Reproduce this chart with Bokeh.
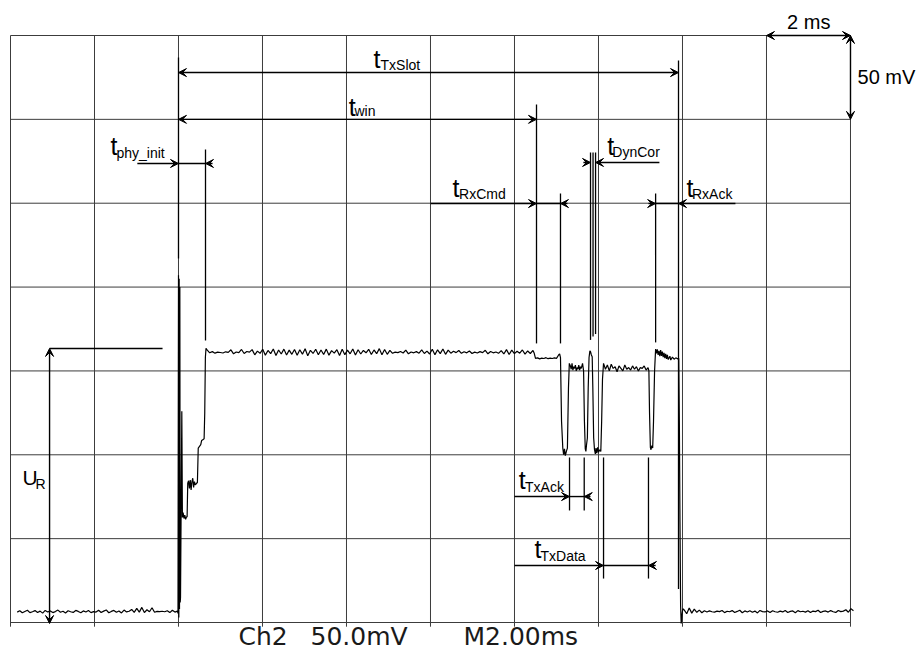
import numpy as np
from bokeh.plotting import figure
from bokeh.models import Range1d, ColumnDataSource, Arrow, VeeHead
from bokeh.core.properties import value
from bokeh.embed import file_html
from bokeh.resources import INLINE

# ---------------- data (time in ms, voltage in mV) ----------------
x_grid = [0, 2, 4, 6, 8, 10, 12, 14, 16, 18, 20]
y_grid = [0, 50, 100, 150, 200, 250, 300, 350]

# baseline before the slot
pre_t0, pre_t1 = 0.16, 3.975
pre_v = [6.2, 7.0, 5.8, 6.6, 7.3, 5.9, 6.4, 7.1, 6.0, 6.8, 5.6, 7.2, 6.3, 6.9, 5.9, 6.5,
         7.4, 6.1, 6.7, 5.7, 7.0, 6.4, 6.0, 7.2, 6.6, 5.8, 6.9, 6.3, 7.1, 5.9, 6.5, 6.2,
         7.3, 6.0, 6.8, 7.5, 5.8, 6.6, 7.2, 6.1, 6.9, 5.7, 7.4, 6.3, 6.7, 7.8, 6.0, 8.4,
         6.2, 9.0, 5.9, 7.6, 6.4, 8.8, 6.1, 6.6, 6.5, 6.7, 6.4, 7.0, 5.9, 7.3, 6.2, 6.8]

# power-up transient
spike_t = [3.988, 4.0, 4.008, 4.016, 4.024, 4.032, 4.040, 4.048, 4.079, 4.093, 4.11, 4.13,
           4.15, 4.17, 4.19, 4.205, 4.22, 4.24, 4.26, 4.28, 4.30, 4.32, 4.34, 4.36, 4.38,
           4.40, 4.43, 4.45, 4.47, 4.50, 4.53, 4.55, 4.58, 4.61, 4.625, 4.64, 4.655]
spike_v = [5.5, 207.0, 3.0, 205.0, 8.0, 200.0, 12.0, 14.9, 126.0, 62.6, 65.5, 62.0,
           64.0, 61.5, 63.0, 63.0, 83.0, 84.5, 80.0, 85.0, 79.0, 84.0, 86.0, 80.5, 84.0,
           82.0, 83.0, 83.5, 104.0, 105.0, 106.0, 108.5, 109.0, 109.5, 125.0, 158.0, 163.5]

# plateau during t_win
plat_t0, plat_t1 = 4.68, 12.44
plat_v = [162.5, 160.8, 161.5, 160.6, 161.2, 161.0, 160.7, 161.4, 161.1, 162.6, 160.2, 161.3,
          160.9, 162.8, 160.4, 161.6, 161.2, 162.7, 159.6, 161.8, 160.5, 162.9, 159.4, 162.2,
          160.3, 163.1, 159.2, 162.5, 160.1, 163.0, 159.5, 162.4, 159.9, 162.8, 159.3, 162.6,
          160.0, 163.2, 159.1, 162.3, 160.4, 162.9, 159.6, 162.5, 159.8, 163.0, 159.4, 162.1,
          160.6, 162.7, 159.2, 162.9, 159.7, 162.4, 160.2, 163.1, 159.5, 162.6, 160.1, 162.2,
          160.8, 162.9, 159.8, 162.5, 160.3, 163.3, 159.6, 162.8, 159.9, 162.3, 160.5, 161.2,
          160.9, 161.6, 160.7, 162.4, 160.2, 161.3, 160.8, 161.5, 160.6, 162.5, 160.4, 161.8,
          160.1, 162.9, 159.7, 162.6, 160.3, 163.1, 159.9, 162.4, 160.6, 161.7, 160.9, 162.2,
          160.5, 161.4, 160.8, 161.9, 160.4, 161.2, 160.7, 161.5, 160.9, 162.3, 160.2, 161.6,
          160.8, 161.3, 160.5, 162.1, 160.1, 162.7, 159.8, 162.4, 160.3, 161.7, 160.6, 162.5,
          160.0, 161.9, 160.4, 162.2]

# command / ack modulation
mid_t = [12.47, 12.50, 12.55, 12.60, 12.65, 12.70, 12.75, 12.80, 12.85, 12.90,
         12.95, 13.00, 13.05, 13.075, 13.095, 13.12, 13.15, 13.17, 13.19, 13.21,
         13.24, 13.26, 13.285, 13.305, 13.33, 13.35, 13.37, 13.39, 13.41, 13.43,
         13.45, 13.47, 13.49, 13.51, 13.53, 13.55, 13.57, 13.59, 13.62, 13.645,
         13.665, 13.685, 13.70, 13.715, 13.735, 13.755, 13.775, 13.795, 13.81, 13.83,
         13.85, 13.865, 13.885, 13.905, 13.925, 13.94, 13.96, 13.98, 14.00, 14.03,
         14.055, 14.075, 14.095, 14.12, 14.14]
mid_v = [160.5, 157.5, 157.8, 157.2, 157.6, 157.4, 157.9, 157.3, 157.6, 157.4,
         157.8, 157.5, 159.5, 160.2, 158.0, 120.0, 104.0, 100.0, 103.5, 99.5,
         102.5, 104.0, 140.0, 154.5, 153.0, 151.0, 154.5, 150.5, 152.5, 151.5,
         153.5, 150.0, 152.0, 151.0, 153.5, 150.5, 152.5, 151.5, 154.5, 150.0,
         120.0, 103.5, 102.0, 106.0, 110.0, 140.0, 158.0, 162.0, 161.5, 159.5,
         158.5, 140.0, 110.0, 103.0, 100.5, 104.0, 101.0, 104.5, 101.5, 103.0,
         102.0, 120.0, 145.0, 154.5, 153.0]

data_t0, data_t1 = 14.165, 15.18
data_v = [151.0, 153.5, 150.0, 154.0, 151.5, 152.5, 149.5, 153.0, 151.5, 150.0, 153.5, 151.0,
          152.0, 150.5, 153.0, 151.0, 152.5, 150.0, 152.0, 151.5, 153.0, 150.5, 152.0]

end_t = [15.20, 15.215, 15.235, 15.25, 15.27, 15.29, 15.31, 15.335, 15.36, 15.38,
         15.40, 15.42, 15.44, 15.46, 15.48, 15.50, 15.52, 15.54, 15.56, 15.58,
         15.60, 15.62, 15.64, 15.66, 15.70, 15.72, 15.76, 15.80, 15.84, 15.88,
         15.91, 15.925, 15.94, 15.955, 15.969, 15.985, 16.007]
end_v = [150.0, 125.0, 104.5, 103.0, 105.5, 104.0, 120.0, 150.0, 163.0, 160.5,
         162.8, 159.5, 162.0, 158.8, 162.5, 159.0, 161.5, 158.2, 160.8, 157.6,
         160.2, 157.2, 159.6, 156.8, 158.8, 156.5, 158.2, 157.0, 157.8, 157.2,
         157.5, 120.0, 60.0, 10.0, -0.6, 4.0, 8.2]

post_t0, post_t1 = 16.04, 20.07
post_v = [7.5, 5.2, 8.6, 5.6, 8.0, 6.1, 7.4, 5.8, 7.0, 6.3, 6.9, 6.4, 6.2, 6.8, 6.5, 7.2,
          5.9, 6.7, 6.4, 7.1, 6.0, 6.6, 7.3, 5.8, 6.9, 6.3, 7.0, 6.1, 6.8, 5.7, 7.2, 6.5,
          6.3, 6.9, 5.9, 7.0, 6.4, 6.1, 6.8, 6.3, 7.2, 6.0, 6.6, 6.9, 5.8, 7.1, 6.4, 6.7,
          6.2, 7.0, 5.9, 6.8, 6.5, 7.3, 6.0, 6.6, 6.9, 6.2, 7.1, 6.4, 6.0, 7.2, 6.5, 6.8,
          7.6, 6.1, 8.3, 7.0]

# timing markers (ms) and their vertical extent (mV)
marker_t = [4.0, 4.643, 12.524, 13.095, 13.81, 13.87, 13.93, 15.36, 15.905,
            13.31, 13.66, 14.12, 15.19]
marker_top = [336.9, 282.0, 308.9, 255.8, 280.3, 280.3, 280.3, 255.8, 335.1,
              98.4, 98.4, 98.4, 98.4]
marker_bot = [217.0, 168.1, 166.4, 166.4, 168.5, 170.5, 172.0, 167.0, 20.0,
              66.8, 66.8, 26.2, 26.2]

# single-headed dimension arrows (tail -> tip)
arr_x0 = [3.02, 4.81, 10.0, 13.26, 13.64, 15.45, 15.19, 17.26, 12.0, 13.81, 12.0, 15.36]
arr_x1 = [4.0, 4.643, 12.524, 13.095, 13.81, 13.93, 15.36, 15.905, 13.31, 13.66, 14.12, 15.19]
arr_y = [273.7, 273.7, 249.8, 249.8, 274.3, 274.3, 249.8, 249.8, 75.1, 75.1, 34.0, 34.0]

# connecting segments between the markers
seg_x0 = [4.0, 12.524, 15.36, 13.31, 14.12, 0.93]
seg_x1 = [4.643, 13.095, 15.905, 13.66, 15.19, 3.62]
seg_y = [273.7, 249.8, 249.8, 75.1, 34.0, 163.4]

# double-headed arrows: t_TxSlot, t_win, U_R, 2 ms, 50 mV
dbl_x0 = [4.0, 4.0, 0.93, 18.0, 20.0]
dbl_y0 = [327.9, 300.0, 163.4, 350.0, 350.0]
dbl_x1 = [15.905, 12.524, 0.93, 20.0, 20.0]
dbl_y1 = [327.9, 300.0, -0.6, 350.0, 300.0]

# labels: main letter + subscript (baseline positions)
lab_main = ["t", "t", "t", "t", "t", "t", "t", "t", "U"]
lab_sub = ["TxSlot", "win", "phy_init", "RxCmd", "DynCor", "RxAck", "TxAck", "TxData", "R"]
lab_x = [8.643, 8.055, 2.381, 10.524, 14.207, 16.095, 12.102, 12.476, 0.286]
lab_y = [330.9, 302.3, 279.0, 254.0, 278.5, 254.0, 79.7, 38.6, 81.7]
sub_x = [8.81, 8.19, 2.524, 10.679, 14.33, 16.226, 12.25, 12.619, 0.595]
sub_y = [329.4, 301.7, 277.0, 252.2, 277.3, 252.2, 77.7, 36.6, 79.3]

scale_text = ["2 ms", "50 mV"]
scale_x = [18.49, 20.167]
scale_y = [354.0, 320.8]

status_text = ["Ch2", "50.0mV", "M2.00ms"]
status_x = [5.429, 7.143, 10.786]
status_y = [-13.5, -13.5, -13.5]

# ---------------- build trace ----------------
trace_t = np.concatenate([
    np.linspace(pre_t0, pre_t1, len(pre_v)), spike_t,
    np.linspace(plat_t0, plat_t1, len(plat_v)), mid_t,
    np.linspace(data_t0, data_t1, len(data_v)), end_t,
    np.linspace(post_t0, post_t1, len(post_v))])
trace_v = np.concatenate([pre_v, spike_v, plat_v, mid_v, data_v, end_v, post_v])

PX_PER_MV = 587.0 / 350.0


def lift(ys, size):
    # renderer places "alphabetic" text ~0.36 em low; compensate
    return [y + 0.36 * size / PX_PER_MV for y in ys]


# ---------------- figure ----------------
p = figure(width=921, height=650, output_backend="svg", toolbar_location=None,
           x_range=Range1d(-0.2381, 21.6905), y_range=Range1d(-16.695, 370.87),
           x_axis_location=None, y_axis_location=None, min_border=0)
p.grid.visible = False
p.outline_line_color = None
p.background_fill_color = "white"

GRID = "#3c3c3c"
p.segment(x0=x_grid, y0=[-2.5] * len(x_grid), x1=x_grid, y1=[350] * len(x_grid),
          line_color=GRID, line_width=1)
p.segment(x0=[0] * len(y_grid), y0=y_grid, x1=[20] * len(y_grid), y1=y_grid,
          line_color=GRID, line_width=1)

p.segment(x0=marker_t, y0=marker_top, x1=marker_t, y1=marker_bot,
          line_color="black", line_width=1.3)
p.segment(x0=seg_x0, y0=seg_y, x1=seg_x1, y1=seg_y, line_color="black", line_width=1.4)

p.line(trace_t, trace_v, line_color="black", line_width=1.2)

src1 = ColumnDataSource(dict(x0=arr_x0, x1=arr_x1, y=arr_y))
p.add_layout(Arrow(x_start="x0", y_start="y", x_end="x1", y_end="y", source=src1,
                   line_color="black", line_width=1.4,
                   end=VeeHead(size=8, fill_color="black", line_color="black", line_width=1)))
src2 = ColumnDataSource(dict(x0=dbl_x0, y0=dbl_y0, x1=dbl_x1, y1=dbl_y1))
p.add_layout(Arrow(x_start="x0", y_start="y0", x_end="x1", y_end="y1", source=src2,
                   line_color="black", line_width=1.4,
                   start=VeeHead(size=8, fill_color="black", line_color="black", line_width=1),
                   end=VeeHead(size=8, fill_color="black", line_color="black", line_width=1)))

FONT = value("Liberation Sans")
p.text(x=lab_x[:8], y=lift(lab_y[:8], 25), text=lab_main[:8], text_font=FONT,
       text_font_size="25px", text_baseline="alphabetic", text_align="left", text_color="black")
p.text(x=lab_x[8:], y=lift(lab_y[8:], 21), text=lab_main[8:], text_font=FONT,
       text_font_size="21px", text_baseline="alphabetic", text_align="left", text_color="black")
p.text(x=sub_x, y=lift(sub_y, 14), text=lab_sub, text_font=FONT, text_font_size="14px",
       text_baseline="alphabetic", text_align="left", text_color="black")
p.text(x=scale_x, y=lift(scale_y, 20), text=scale_text, text_font=FONT, text_font_size="20px",
       text_baseline="alphabetic", text_align="left", text_color="black")
p.text(x=status_x, y=lift(status_y, 25), text=status_text, text_font=value("DejaVu Sans"),
       text_font_size="25px", text_baseline="alphabetic", text_align="left",
       text_color="#1a1a1a")

open("out.html", "w").write(file_html(p, INLINE))
